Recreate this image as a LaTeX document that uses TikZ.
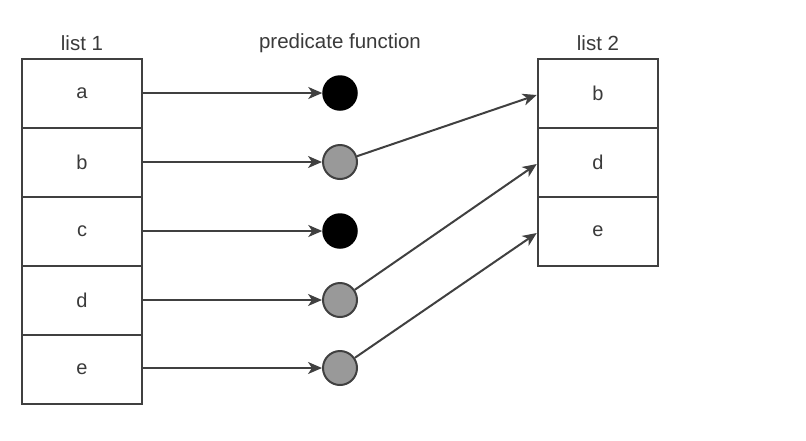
\documentclass[tikz,border=0pt]{standalone}
\usepackage{fontspec}
\setmainfont{Liberation Sans}
\usetikzlibrary{arrows.meta}
\definecolor{linec}{HTML}{404040}
\definecolor{textc}{HTML}{3A3A3A}
\definecolor{grayfill}{HTML}{999999}
\tikzset{
  cell/.style={draw=linec, line width=2pt, minimum width=120.5pt, minimum height=69pt, inner sep=0pt, text=textc, font=\fontsize{20}{24}\selectfont},
  lbl/.style={text=textc, font=\fontsize{20.5}{24}\selectfont, inner sep=0pt},
  dotblack/.style={circle, fill=black, draw=black, line width=1.5pt, minimum size=34pt, inner sep=0pt},
  dotgray/.style={circle, fill=grayfill, draw=linec, line width=2pt, minimum size=34pt, inner sep=0pt},
  conn/.style={draw=linec, line width=2pt, -{Stealth[length=14pt, width=12pt, inset=4pt]}}
}
\begin{document}
\begin{tikzpicture}[x=1pt, y=-1pt]
\useasboundingbox (0,0) rectangle (806,440);
% labels
\node[lbl] (t1) at (82,43) {list 1};
\node[lbl] (t2) at (340,43) {predicate function};
\node[lbl] (t3) at (598,43) {list 2};
% list 1
\node[cell] (la) at (82,93) {a};
\node[cell] (lb) at (82,162) {b};
\node[cell] (lc) at (82,231) {c};
\node[cell] (ld) at (82,300) {d};
\node[cell] (le) at (82,369) {e};
% list 2
\node[cell] (rb) at (598,93) {b};
\node[cell] (rd) at (598,162) {d};
\node[cell] (re) at (598,231) {e};
% predicate results
\node[dotblack] (pa) at (340,93) {};
\node[dotgray] (pb) at (340,162) {};
\node[dotblack] (pc) at (340,231) {};
\node[dotgray] (pd) at (340,300) {};
\node[dotgray] (pe) at (340,368) {};
% connectors
\draw[conn] (la.east) -- (pa.west);
\draw[conn] (lb.east) -- (pb.west);
\draw[conn] (lc.east) -- (pc.west);
\draw[conn] (ld.east) -- (pd.west);
\draw[conn] (le.east |- pe) -- (pe.west);
\draw[conn] (pb) -- ([yshift=-2pt]rb.west);
\draw[conn] (pd) -- ([yshift=-2pt]rd.west);
\draw[conn] (pe) -- ([yshift=-2pt]re.west);
\end{tikzpicture}
\end{document}
